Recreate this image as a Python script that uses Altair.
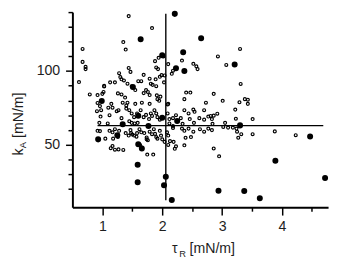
import altair as alt
import pandas as pd

# open circles (tau_R, k_A)
open_x = [1.44, 1.83, 1.35,
          1.39, 0.67, 0.67, 0.72, 0.72, 1.44, 1.47, 3.30, 2.93, 3.07, 2.52, 2.57, 2.59, 2.33, 2.10, 2.02, 1.94, 1.88, 1.90, 1.93, 2.16, 2.18,
          0.61, 0.79, 3.31, 1.28, 1.30, 1.13, 1.21, 1.03, 0.92, 1.00, 1.03, 1.32, 1.36, 1.42, 1.49, 1.55, 1.60, 1.69, 1.65, 1.79, 1.81, 1.84,
          1.73, 1.76, 1.69, 1.79, 1.89, 1.90, 1.96, 1.99, 2.04, 2.03, 1.91, 1.97, 1.92, 1.95, 2.10, 2.40, 2.47, 2.37, 3.01, 2.86, 2.73, 3.29,
          3.38, 3.43, 2.70, 1.34, 1.42, 1.40, 1.66, 1.79, 1.55, 1.15, 0.92, 0.96, 1.02, 1.26, 1.32, 1.38,
          1.10, 1.17, 0.91, 0.98, 0.97, 1.12, 1.24, 1.27, 1.32, 1.40, 1.45, 1.49, 1.53, 1.58, 1.64, 1.69, 1.73, 1.78, 1.81, 1.83, 1.87, 1.90,
          1.92, 1.96, 2.09, 2.09, 2.12, 2.18, 2.23, 2.31, 2.37, 2.44, 2.52, 2.54, 2.62, 2.70, 2.77, 2.86, 2.92, 2.84, 3.05, 3.22, 3.23, 3.43,
          3.51, 3.02, 3.10, 3.18, 3.24, 2.81, 2.83, 2.46, 2.53, 2.34, 2.12, 2.18, 1.45, 1.49, 1.54, 1.59, 0.95, 1.09, 0.92,
          0.96, 1.05, 1.12, 1.17, 1.18, 1.21, 1.26, 1.28, 1.17, 1.21, 1.14, 1.27, 1.35, 1.39, 1.44, 1.47, 1.48, 1.50, 1.53, 1.57, 1.58, 1.62,
          1.65, 1.70, 1.74, 1.74, 1.76, 1.79, 1.83, 1.86, 1.88, 1.90, 1.92, 1.96, 1.98, 2.00, 2.04, 2.08, 2.10, 2.13, 2.18, 2.19, 2.23, 2.21,
          1.60, 1.63, 1.66, 1.75, 1.85, 2.10, 2.33, 2.37, 2.39, 2.48, 2.37, 2.44, 2.52, 2.63, 2.70, 2.77, 2.83, 3.25, 3.32, 3.51, 3.27, 2.86,
          2.95, 3.88, 4.23]
open_y = [137.3, 129.2, 119.7,
          114.6, 115.0, 106.2, 102.8, 101.3, 102.1, 99.4, 115.0, 109.9, 104.1, 104.9, 103.2, 101.3, 107.1, 104.7, 109.9, 109.0, 106.7, 102.4, 101.3, 98.1, 100.2,
          92.5, 84.1, 91.2, 98.5, 95.9, 92.3, 92.3, 89.9, 83.7, 84.5, 89.5, 94.4, 93.6, 91.4, 89.7, 87.1, 93.1, 97.4, 93.1, 94.8, 91.4, 90.6,
          87.1, 85.8, 85.0, 83.7, 94.4, 89.7, 96.1, 97.2, 97.0, 92.3, 83.5, 82.6, 80.9, 79.8, 77.7, 85.4, 85.4, 80.9, 79.8, 84.5, 78.5, 78.8,
          80.9, 80.5, 73.4, 78.5, 78.5, 76.6, 78.5, 77.7, 77.7, 77.7, 78.3, 76.2, 85.8, 84.8, 84.1, 82.0,
          75.1, 75.1, 72.7, 73.4, 69.1, 70.0, 72.7, 73.4, 68.0, 74.5, 73.4, 71.2, 68.7, 71.2, 73.4, 68.7, 70.2, 67.4, 71.2, 69.5, 73.4, 71.2,
          68.7, 67.0, 77.3, 71.2, 67.4, 68.0, 70.0, 68.0, 73.4, 71.2, 73.8, 72.3, 68.0, 67.0, 69.1, 69.7, 71.0, 64.2, 64.8, 73.8, 67.6, 77.7,
          67.4, 62.0, 61.6, 61.6, 60.9, 69.5, 67.4, 67.4, 64.8, 64.2, 64.4, 62.7, 65.9, 64.8, 64.4, 64.8, 64.8, 64.4, 59.4,
          59.2, 54.1, 59.4, 58.4, 54.1, 60.5, 55.2, 59.4, 49.1, 46.6, 47.6, 46.8, 46.4, 57.9, 56.2, 59.9, 57.9, 56.9, 56.2, 55.4, 57.9, 60.5,
          58.4, 57.9, 54.9, 53.6, 53.0, 58.8, 57.1, 60.5, 57.3, 55.2, 54.1, 59.4, 56.2, 53.6, 51.9, 58.4, 56.2, 52.4, 61.4, 51.9, 48.9, 47.2,
          50.2, 49.8, 48.1, 43.3, 43.3, 49.8, 60.9, 59.4, 54.7, 55.2, 49.6, 60.9, 58.8, 60.5, 58.8, 60.9, 59.9, 58.8, 57.1, 57.1, 54.7, 47.4,
          42.1, 59.0, 56.4]

# filled circles
filled_x = [2.21, 1.64, 2.65, 2.35, 2.00, 2.23, 2.37, 3.21, 1.51, 0.99, 1.60, 2.00, 1.34, 1.77, 2.25, 1.25,
            0.93, 1.60, 1.66, 1.59, 1.59, 2.06, 2.03, 2.16, 3.30, 4.47, 3.89, 4.72, 2.94, 3.37, 3.63]
filled_y = [138.8, 121.5, 122.3, 112.7, 110.7, 101.9, 100.0, 104.5, 89.1, 79.6, 69.6, 68.3, 63.8, 62.7, 66.0, 56.4,
            53.6, 50.3, 47.4, 36.3, 24.5, 28.3, 22.4, 12.5, 63.1, 55.5, 39.1, 27.3, 18.7, 18.6, 13.7]

# cross lines
h_x = [0.92]
h_x2 = [4.69]
h_y = [62.9]
v_x = [2.06]
v_y = [12.3]
v_y2 = [138.8]

x_ticks = [1, 1.5, 2, 2.5, 3, 3.5, 4, 4.5]
y_ticks = [20, 30, 40, 50, 60, 70, 80, 90, 100, 110, 120, 130, 140]
x_domain = [0.5, 4.77]
y_domain = [7.5, 140]

FONT = "Liberation Sans"
INK = "#1e1e1e"

xs = alt.Scale(domain=x_domain, nice=False, zero=False)
ys = alt.Scale(domain=y_domain, nice=False, zero=False)

x_axis = alt.Axis(
    values=x_ticks, title=None, grid=False,
    labelExpr="datum.value % 1 === 0 ? format(datum.value, 'd') : ''",
    tickSize={"condition": {"test": "datum.value % 1 === 0", "value": 8}, "value": 4},
    domainColor="black", domainWidth=2, tickColor="black", tickWidth=1.5,
    labelFont=FONT, labelFontSize=14.5, labelColor=INK, labelPadding=5, labelOverlap=False,
)
y_axis = alt.Axis(
    values=y_ticks, title=None, grid=False,
    labelExpr="datum.value % 50 === 0 ? format(datum.value, 'd') : ''",
    tickSize={"condition": {"test": "datum.value % 50 === 0", "value": 7}, "value": 4.5},
    domainColor="black", domainWidth=2, tickColor="black", tickWidth=1.5,
    labelFont=FONT, labelFontSize=14.5, labelColor=INK, labelPadding=6, labelOverlap=False,
)

X = alt.X("x:Q", scale=xs, axis=x_axis)
Y = alt.Y("y:Q", scale=ys, axis=y_axis)

df_open = pd.DataFrame({"x": open_x, "y": open_y})
df_fill = pd.DataFrame({"x": filled_x, "y": filled_y})
df_h = pd.DataFrame({"x": h_x, "x2": h_x2, "y": h_y})
df_v = pd.DataFrame({"x": v_x, "y": v_y, "y2": v_y2})

open_pts = alt.Chart(df_open).mark_point(
    shape="circle", filled=False, color="black", strokeWidth=1.2, size=9, opacity=1
).encode(x=X, y=Y)

hline = alt.Chart(df_h).mark_rule(color="black", strokeWidth=1.4).encode(x=X, x2="x2:Q", y=Y)
vline = alt.Chart(df_v).mark_rule(color="black", strokeWidth=1.4).encode(x=X, y=Y, y2="y2:Q")

fill_pts = alt.Chart(df_fill).mark_circle(color="black", size=38, opacity=1).encode(x=X, y=Y)


def label(txt, px, py, size=14.5, angle=0):
    return alt.Chart(pd.DataFrame({"t": [txt]})).mark_text(
        font=FONT, fontSize=size, color=INK, align="left", baseline="alphabetic", angle=angle
    ).encode(text="t:N", x=alt.value(px), y=alt.value(py))


titles = [
    label("τ", 102, 247),
    label("R", 109.5, 251, size=9.5),
    label("[mN/m]", 120, 247),
    label("k", -51, 147, angle=270),
    label("A", -47.5, 139.5, size=9.5, angle=270),
    label("[mN/m]", -51, 129, angle=270),
]

chart = alt.layer(open_pts, hline, vline, fill_pts, *titles).properties(
    width=262, height=200,
    autosize=alt.AutoSizeParams(type="none"),
    padding={"left": 66, "top": 1, "right": 3, "bottom": 58},
).configure_view(stroke=None)

chart.save("out.html", embed_options={"renderer": "svg", "actions": False})
